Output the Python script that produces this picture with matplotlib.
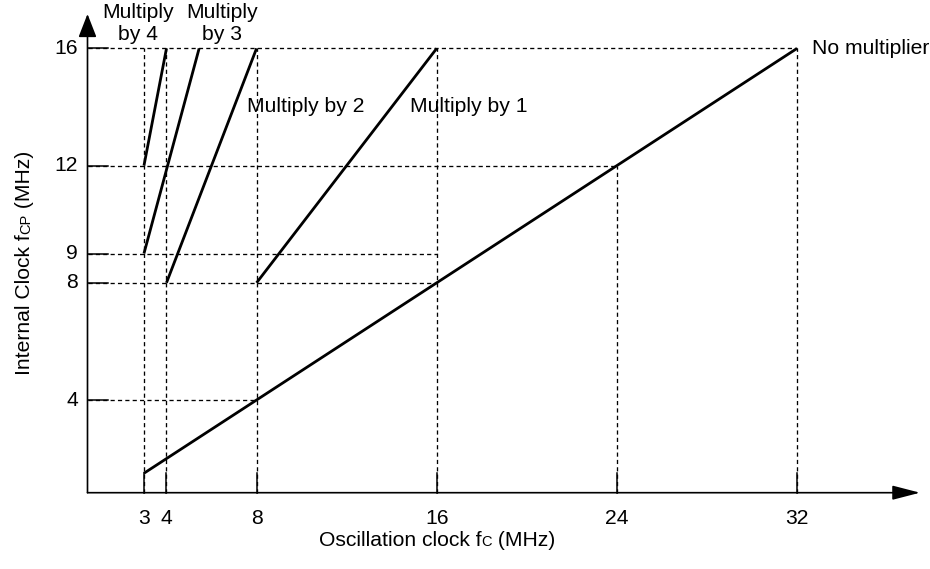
import matplotlib
matplotlib.use("Agg")
import matplotlib.pyplot as plt
from matplotlib.font_manager import FontProperties
from matplotlib.transforms import IdentityTransform

plt.rcParams['font.family'] = ['Liberation Sans', 'DejaVu Sans']
plt.rcParams['lines.scale_dashes'] = False

# ---- data ----
x_ticks = [3, 4, 8, 16, 24, 32]
y_ticks = [4, 8, 9, 12, 16]

no_mult_x = [3, 32]
no_mult_y = [1.5, 16]
mult1_x = [8, 16]
mult1_y = [8, 16]
mult2_x = [4, 8]
mult2_y = [8, 16]
mult3_x = [3, 5.45]
mult3_y = [9, 16]
mult4_x = [3, 4]
mult4_y = [12, 16]

# guide lines: vertical (x, top y), horizontal (y, right x)
vguides_x = [3, 4, 8, 16, 24, 32]
vguides_top = [16, 16, 16, 16, 12, 16]
hguides_y = [16, 12, 9, 8, 4]
hguides_right = [32, 24, 16, 16, 8]

# ---- layout (pixel calibration) ----
W, H = 930, 569
X0, SX = 76.4, 22.52
Y0, SY = 517.2, 29.3
def px2x(px):
    return (px - X0) / SX
def px2y(py):
    return (Y0 - py) / SY

FS = 15.2
fig = plt.figure(figsize=(W / 100, H / 100), dpi=100)
ax = fig.add_axes([0, 0, 1, 1])
ax.set_xlim(px2x(0), px2x(W))
ax.set_ylim(px2y(H), px2y(0))
ax.axis('off')

ax_x0 = px2x(87.5)     # y-axis position
ax_y0 = px2y(492.7)    # x-axis position
x_end = px2x(920)
y_end = px2y(14)

dash = (0, (3.0, 2.3))
glw = 0.95
# guide lines
for xv, top in zip(vguides_x, vguides_top):
    ax.plot([xv, xv], [ax_y0, top], color='black', lw=glw, ls=dash, zorder=1)
for yv, right in zip(hguides_y, hguides_right):
    ax.plot([ax_x0, right], [yv, yv], color='black', lw=glw, ls=dash, zorder=1)

# solid inner ticks
tick_len_x = 20 / SX
tick_len_y = 20 / SY
for xv in x_ticks:
    ax.plot([xv, xv], [ax_y0, ax_y0 + tick_len_y], color='black', lw=1.1, zorder=2)
for yv in y_ticks:
    ax.plot([ax_x0, ax_x0 + tick_len_x], [yv, yv], color='black', lw=1.1, zorder=2)

# axes with arrows
ax.annotate('', xy=(x_end, ax_y0), xytext=(ax_x0, ax_y0),
            arrowprops=dict(arrowstyle='-|>,head_length=0.85,head_width=0.22',
                            mutation_scale=20, color='black', lw=1.2,
                            shrinkA=0, shrinkB=0), zorder=3)
ax.annotate('', xy=(ax_x0, y_end), xytext=(ax_x0, ax_y0),
            arrowprops=dict(arrowstyle='-|>,head_length=0.72,head_width=0.28',
                            mutation_scale=20, color='black', lw=1.2,
                            shrinkA=0, shrinkB=0), zorder=3)

# series
for xs, ys in [(no_mult_x, no_mult_y), (mult1_x, mult1_y), (mult2_x, mult2_y),
               (mult3_x, mult3_y), (mult4_x, mult4_y)]:
    ax.plot(xs, ys, color='black', lw=2.0, solid_capstyle='butt', zorder=4)

# tick labels
for xv in x_ticks:
    ax.text(xv, px2y(518.5), str(xv), ha='center', va='center', fontsize=FS)
for yv in y_ticks:
    ax.text(px2x(78), yv, str(yv), ha='right', va='center', fontsize=FS)

# annotations
ax.text(px2x(138), px2y(23), 'Multiply\nby 4', ha='center', va='center',
        fontsize=FS, linespacing=1.2)
ax.text(px2x(222), px2y(23), 'Multiply\nby 3', ha='center', va='center',
        fontsize=FS, linespacing=1.2)
ax.text(px2x(247), px2y(107), 'Multiply by 2', ha='left', va='center', fontsize=FS)
ax.text(px2x(410), px2y(107), 'Multiply by 1', ha='left', va='center', fontsize=FS)
ax.text(px2x(812), px2y(49), 'No multiplier', ha='left', va='center', fontsize=FS)

# axis labels with small-caps subscripts
renderer = fig.canvas.get_renderer()
def adv(s, size):
    fp = FontProperties(family='Liberation Sans', size=size)
    w2 = renderer.get_text_width_height_descent('||', fp, ismath=False)[0]
    w = renderer.get_text_width_height_descent('|' + s + '|', fp, ismath=False)[0]
    return w - w2

SMALL = 10.5
def seq_text(cx, cy_base, pieces, vertical=False):
    total = sum(adv(s, sz) for s, sz in pieces)
    pos = -total / 2
    for s, sz in pieces:
        if vertical:
            fig.text(cx, cy_base + pos, s, fontsize=sz, rotation=90,
                     rotation_mode='anchor', ha='left', va='baseline',
                     transform=IdentityTransform())
        else:
            fig.text(cx + pos, cy_base, s, fontsize=sz, ha='left', va='baseline',
                     transform=IdentityTransform())
        pos += adv(s, sz)

seq_text(437, H - 546, [('Oscillation clock f', FS), ('C', SMALL), (' (MHz)', FS)])
seq_text(30, H - 263, [('Internal Clock f', FS), ('CP', SMALL), (' (MHz)', FS)],
         vertical=True)

fig.savefig('out.png', dpi=100)
